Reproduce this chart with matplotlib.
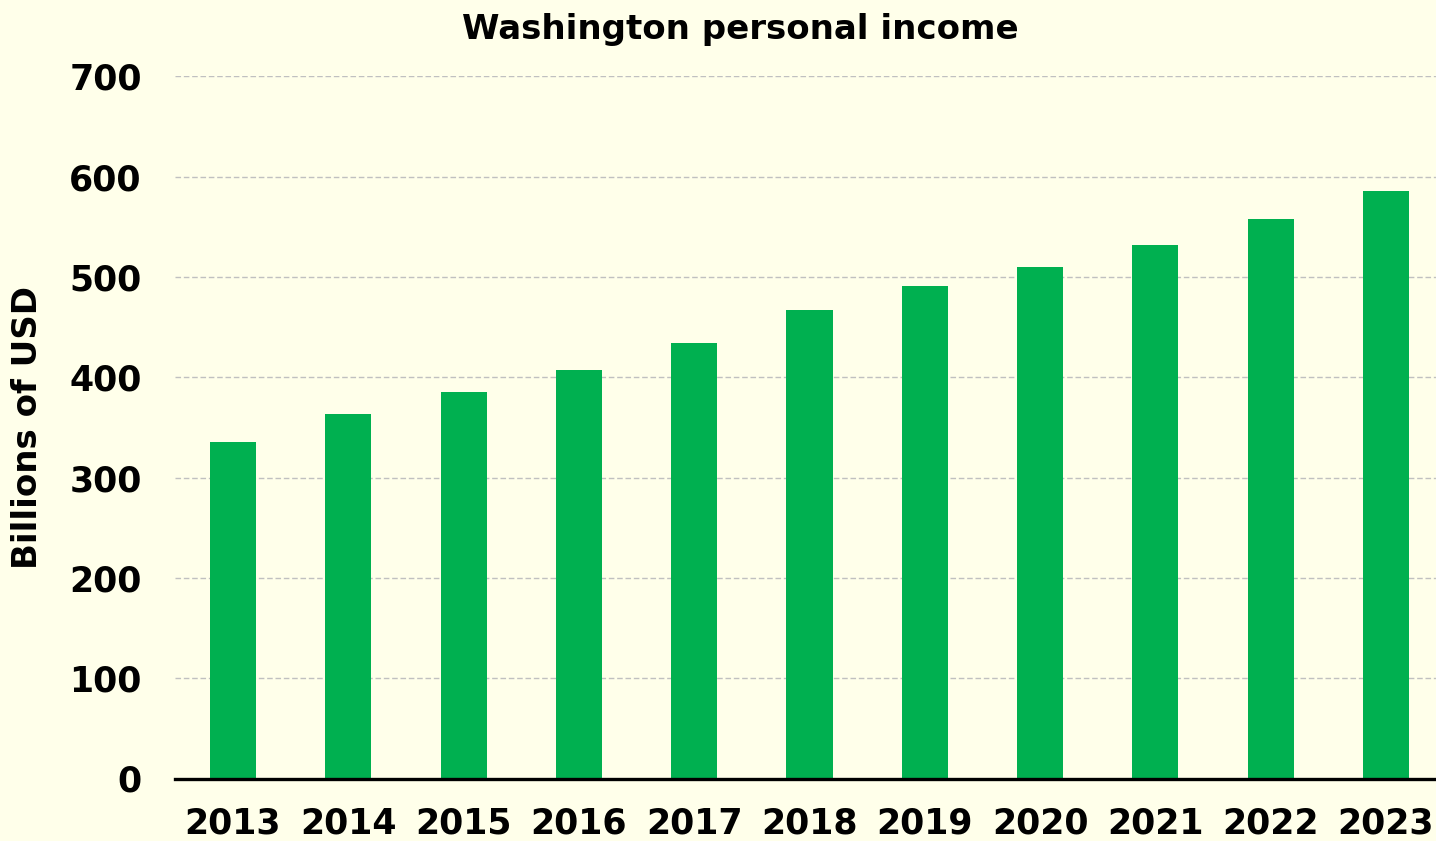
import matplotlib
matplotlib.use("Agg")
import matplotlib.pyplot as plt

years = ["2013", "2014", "2015", "2016", "2017", "2018", "2019", "2020", "2021", "2022", "2023"]
income = [335.5, 363.0, 385.2, 407.2, 434.4, 467.1, 491.2, 510.3, 532.1, 557.5, 585.4]
yticks = [0, 100, 200, 300, 400, 500, 600, 700]

bg = "#FFFFEA"
green = "#00B050"

fig = plt.figure(figsize=(14.36, 8.41), dpi=100, facecolor=bg)
ax = fig.add_axes([175 / 1436, 1 - 778.5 / 841, 1261 / 1436, (778.5 - 76.4) / 841])
ax.set_facecolor(bg)

x = list(range(len(years)))
ax.bar(x, income, width=0.4, color=green, zorder=3)

ax.set_xlim(-0.503, 10.434)
ax.set_ylim(0, 700)
ax.set_xticks(x)
ax.set_xticklabels(years)
ax.set_yticks(yticks)

ax.grid(axis="y", color="#C0C0C0", linestyle=(0, (4, 2)), linewidth=1.0, zorder=0)
ax.set_axisbelow(True)

for s in ["top", "right", "left"]:
    ax.spines[s].set_visible(False)
ax.spines["bottom"].set_linewidth(2.4)
ax.spines["bottom"].set_color("black")
ax.spines["bottom"].set_zorder(4)

ax.tick_params(axis="y", length=0, labelsize=25, pad=24)
ax.tick_params(axis="x", length=0, labelsize=25, pad=20)
for lab in ax.get_xticklabels() + ax.get_yticklabels():
    lab.set_fontweight("bold")

ax.set_ylabel("Billions of USD", fontsize=24.5, fontweight="bold")
ax.yaxis.set_label_coords(-131 / 1261, 0.5)

fig.text(0.5155, 1 - 29 / 841, "Washington personal income", ha="center", va="center",
         fontsize=24.5, fontweight="bold")

fig.savefig("out.png", dpi=100, facecolor=bg)
